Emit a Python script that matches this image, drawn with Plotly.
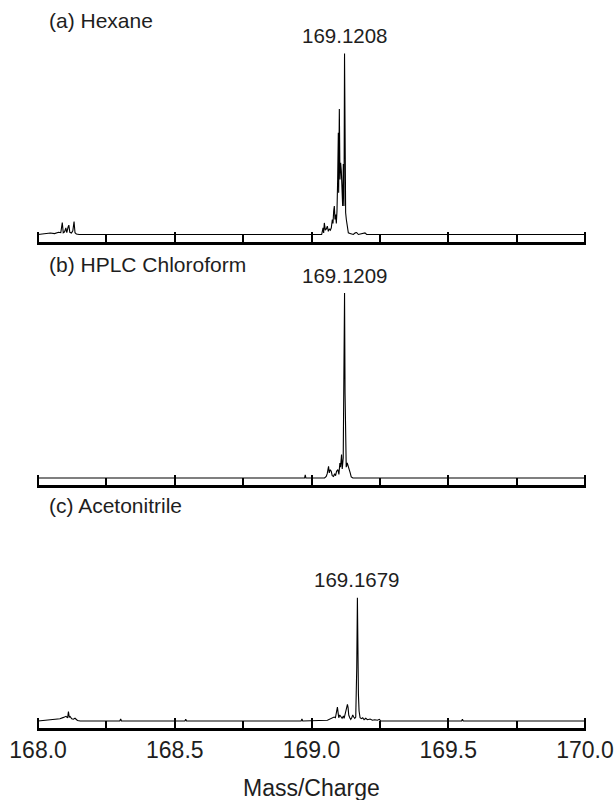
import plotly.graph_objects as go

# ---- axis settings ----
mz_range = [167.996, 170.004]
tick_values = [168.0, 168.5, 169.0, 169.5, 170.0]
tick_labels = ["168.0", "168.5", "169.0", "169.5", "170.0"]
axis_title = "Mass/Charge"

panel_titles = ["(a) Hexane", "(b) HPLC Chloroform", "(c) Acetonitrile"]

# ---- (a) Hexane: profile spectrum (m/z, relative intensity) ----
hexane_mz = [
    168.000, 168.030, 168.045, 168.060, 168.075, 168.083, 168.0885, 168.092,
    168.097, 168.1015, 168.105, 168.1095, 168.1125, 168.116, 168.122, 168.127,
    168.1315, 168.135, 168.140, 168.150,
    169.0372, 169.0421, 169.0445, 169.0469, 169.0506, 169.0542, 169.0579,
    169.0616, 169.0652, 169.0689, 169.0725, 169.0762, 169.0786, 169.0811,
    169.0835, 169.0859, 169.0884, 169.0908, 169.0932, 169.0957, 169.0981,
    169.0993, 169.1018, 169.1042, 169.1066, 169.1091, 169.1115, 169.1139,
    169.1164, 169.1188, 169.1208, 169.1225, 169.1249, 169.1274, 169.1310,
    169.1347, 169.1408, 169.1530, 169.1600, 169.1652, 169.1713, 169.1834,
    169.1956, 169.2017, 170.000,
]
hexane_int = [
    0.000, 0.003, 0.008, 0.005, 0.012, 0.010, 0.066, 0.010,
    0.015, 0.036, 0.010, 0.040, 0.052, 0.012, 0.008, 0.020,
    0.072, 0.010, 0.003, 0.000,
    0.000, 0.037, 0.009, 0.064, 0.024, 0.031, 0.046,
    0.017, 0.031, 0.024, 0.037, 0.083, 0.061, 0.129,
    0.157, 0.083, 0.110, 0.061, 0.129, 0.304, 0.562,
    0.230, 0.694, 0.304, 0.396, 0.350, 0.212, 0.157,
    0.390, 0.157, 1.000, 0.230, 0.120, 0.083, 0.028,
    0.009, 0.006, 0.000, 0.009, 0.011, 0.000, 0.006,
    0.009, 0.000, 0.000,
]

# ---- (b) HPLC Chloroform ----
chloroform_mz = [
    168.000, 168.9747, 168.9771, 168.9795,
    169.0478, 169.0539, 169.0575, 169.0600, 169.0624, 169.0649, 169.0685,
    169.0722, 169.0758, 169.0807, 169.0844, 169.0880, 169.0917, 169.0965,
    169.1002, 169.1038, 169.1063, 169.1099, 169.1124, 169.1160, 169.1185,
    169.1209, 169.1227, 169.1246, 169.1270, 169.1307, 169.1343, 169.1380,
    169.1416, 169.1453, 169.1514, 170.000,
]
chloroform_int = [
    0.000, 0.000, 0.018, 0.000,
    0.000, 0.009, 0.024, 0.050, 0.064, 0.028, 0.046,
    0.037, 0.013, 0.009, 0.024, 0.013, 0.037, 0.046,
    0.020, 0.083, 0.060, 0.129, 0.050, 0.110, 0.866,
    1.022, 0.470, 0.120, 0.060, 0.083, 0.055, 0.046,
    0.028, 0.006, 0.000, 0.000,
]

# ---- (c) Acetonitrile ----
acetonitrile_mz = [
    168.000, 168.030, 168.044, 168.056, 168.068, 168.080, 168.093, 168.102,
    168.108, 168.111, 168.114, 168.117, 168.123, 168.129, 168.135, 168.144, 168.154,
    168.299, 168.302, 168.305, 168.537, 168.540, 168.543,
    168.962, 168.965, 168.968,
    169.0582, 169.0643, 169.0704, 169.0765, 169.0826, 169.0875, 169.0911,
    169.0948, 169.0972, 169.0997, 169.1033, 169.1070, 169.1118, 169.1167,
    169.1192, 169.1228, 169.1265, 169.1289, 169.1314, 169.1338, 169.1362,
    169.1399, 169.1435, 169.1472, 169.1508, 169.1545, 169.1582, 169.1618,
    169.1643, 169.1655, 169.1679, 169.1691, 169.1704, 169.1716, 169.1740,
    169.1777, 169.1826, 169.1874, 169.1923, 169.1984, 169.2045, 169.2142,
    169.2228, 169.2313, 169.2410, 169.2483, 169.2532,
    169.549, 169.552, 169.555, 170.000,
]
acetonitrile_int = [
    0.000, 0.004, 0.005, 0.010, 0.008, 0.012, 0.020, 0.026,
    0.018, 0.052, 0.022, 0.025, 0.012, 0.010, 0.015, 0.003, 0.000,
    0.000, 0.012, 0.000, 0.000, 0.010, 0.000,
    0.000, 0.012, 0.000,
    0.004, 0.009, 0.011, 0.015, 0.022, 0.018, 0.055,
    0.077, 0.046, 0.018, 0.033, 0.022, 0.015, 0.028,
    0.015, 0.037, 0.059, 0.074, 0.092, 0.074, 0.033,
    0.018, 0.009, 0.018, 0.033, 0.022, 0.015, 0.022,
    0.147, 0.295, 0.681, 0.424, 0.295, 0.147, 0.055,
    0.018, 0.013, 0.018, 0.007, 0.015, 0.007, 0.011,
    0.004, 0.007, 0.004, 0.009, 0.000,
    0.000, 0.010, 0.000, 0.000,
]

spectra = [
    (hexane_mz, hexane_int),
    (chloroform_mz, chloroform_int),
    (acetonitrile_mz, acetonitrile_int),
]

# ---- page geometry (pixels) ----
W, H = 614, 800
PX_PER_UNIT = 181.0          # vertical pixels per unit of relative intensity
PLOT_LEFT, PLOT_RIGHT = 37, 586
# baseline, bottom axis line, top of panel, title centre
panel_px = [
    dict(base=234.5, bottom=241.5, top=26, title_y=20),
    dict(base=478.0, bottom=485.0, top=268, title_y=264),
    dict(base=721.0, bottom=728.0, top=512, title_y=505),
]

FONT = "Liberation Sans, Arial, sans-serif"
TEXT_COLOR = "#1e1e1e"

fig = go.Figure()
annotations = []

for i, ((mz, inten), geo, title) in enumerate(zip(spectra, panel_px, panel_titles)):
    sfx = "" if i == 0 else str(i + 1)
    fig.add_trace(go.Scatter(
        x=mz, y=inten, mode="lines",
        line=dict(color="black", width=1.1),
        xaxis="x" + sfx, yaxis="y" + sfx,
        hoverinfo="skip", showlegend=False,
    ))

    fig.layout["xaxis" + sfx] = dict(
        domain=[PLOT_LEFT / W, PLOT_RIGHT / W],
        range=mz_range,
        anchor="y" + sfx,
        automargin=False,
        showline=True, linecolor="black", linewidth=2.5,
        ticks="inside", ticklen=10, tickwidth=2, tickcolor="black",
        tickmode="array", tickvals=tick_values, ticktext=tick_labels,
        showticklabels=(i == 2),
        tickfont=dict(family=FONT, size=23, color=TEXT_COLOR),
        minor=dict(ticks="inside", ticklen=7, tickwidth=2, tickcolor="black",
                   tickmode="linear", tick0=168.0, dtick=0.25, showgrid=False),
        showgrid=False, zeroline=False, fixedrange=True,
    )
    fig.layout["yaxis" + sfx] = dict(
        domain=[1 - geo["bottom"] / H, 1 - geo["top"] / H],
        range=[-(geo["bottom"] - geo["base"]) / PX_PER_UNIT,
               (geo["base"] - geo["top"]) / PX_PER_UNIT],
        anchor="x" + sfx, visible=False, fixedrange=True, automargin=False,
    )

    # panel title
    annotations.append(dict(
        text=title, xref="paper", yref="paper",
        x=47 / W, y=1 - geo["title_y"] / H,
        xanchor="left", yanchor="middle", showarrow=False,
        font=dict(family=FONT, size=21, color=TEXT_COLOR),
    ))

    # label over the highest peak, taken from the data
    k = max(range(len(inten)), key=lambda j: inten[j])
    annotations.append(dict(
        text=f"{mz[k]:.4f}", xref="x" + sfx, yref="y" + sfx,
        x=mz[k], y=inten[k], xanchor="center", yanchor="middle",
        yshift=18, showarrow=False,
        font=dict(family=FONT, size=20.5, color=TEXT_COLOR),
    ))

annotations.append(dict(
    text=axis_title, xref="paper", yref="paper",
    x=311 / W, y=1 - 788 / H, xanchor="center", yanchor="middle",
    showarrow=False, font=dict(family=FONT, size=23, color=TEXT_COLOR),
))

fig.update_layout(
    width=W, height=H,
    margin=dict(l=0, r=0, t=0, b=0),
    paper_bgcolor="white", plot_bgcolor="white",
    annotations=annotations,
    showlegend=False,
)

fig.write_html("out.html", config={"displayModeBar": False})
